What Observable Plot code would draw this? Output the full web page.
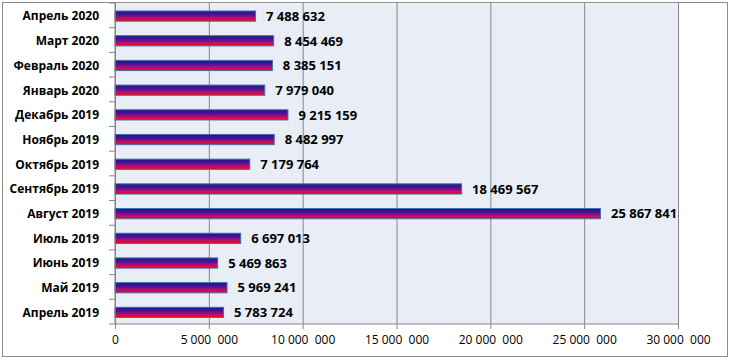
<!DOCTYPE html>
<html>
<head>
<meta charset="utf-8">
<script src="https://cdn.jsdelivr.net/npm/d3@7"></script>
<script src="https://cdn.jsdelivr.net/npm/@observablehq/plot@0.6"></script>
<style>
  html, body { margin: 0; padding: 0; background: #fff; }
  #chart svg { display: block; }
</style>
</head>
<body>
<div id="chart"></div>
<script>
const months = ["Апрель 2020", "Март 2020", "Февраль 2020", "Январь 2020", "Декабрь 2019", "Ноябрь 2019", "Октябрь 2019", "Сентябрь 2019", "Август 2019", "Июль 2019", "Июнь 2019", "Май 2019", "Апрель 2019"];
const values = [7488632, 8454469, 8385151, 7979040, 9215159, 8482997, 7179764, 18469567, 25867841, 6697013, 5469863, 5969241, 5783724];
const xTicks = [0, 5000000, 10000000, 15000000, 20000000, 25000000, 30000000];
const xTickLabels = ["0", "5\u00a0000\u00a0\u00a0000", "10\u00a0000\u00a0\u00a0000", "15\u00a0000\u00a0\u00a0000", "20\u00a0000\u00a0\u00a0000", "25\u00a0000\u00a0\u00a0000", "30\u00a0000\u00a0\u00a0000"];

const data = months.map((m, i) => ({month: m, value: values[i]}));
const fmt = v => d3.format(",")(v).replace(/,/g, "\u00a0");

const chart = Plot.plot({
  width: 730,
  height: 362,
  marginLeft: 115,
  marginRight: 52,
  marginTop: 3,
  marginBottom: 38,
  style: {fontFamily: "'Open Sans', sans-serif", color: "#000", background: "#fff"},
  x: {domain: [0, 30000000], label: null},
  y: {domain: months, padding: 0, round: false, label: null},
  marks: [
    Plot.frame({fill: "#e9edf6", stroke: null}),
    Plot.ruleX(xTicks, {stroke: "#868686", strokeOpacity: 1}),
    Plot.barX(data, {y: "month", x: "value", fill: "url(#barGrad)", stroke: "#3f6fae", strokeWidth: 1, insetTop: 8, insetBottom: 6.5}),
    Plot.text(data, {y: "month", x: "value", text: d => fmt(d.value), dx: 10, dy: 0.8, textAnchor: "start", fontWeight: "bold", fontSize: 13, fill: "#000"}),
    Plot.axisX({ticks: xTicks, tickFormat: (d) => xTickLabels[xTicks.indexOf(d)], tickSize: 5, tickPadding: 6, stroke: "#868686", fontSize: 12, fill: "#000", label: null}),
    Plot.axisY({tickSize: 0, tickPadding: 16.5, dy: 0.8, fontSize: 12, fontWeight: "bold", fill: "#000", label: null})
  ]
});

const svg = d3.select(chart);
const defs = svg.insert("defs", ":first-child");
const grad = defs.append("linearGradient").attr("id", "barGrad").attr("x1", 0).attr("y1", 0).attr("x2", 0).attr("y2", 1);
[[0, "#181880"], [0.4, "#55109c"], [0.75, "#c8105e"], [1, "#ff0000"]].forEach(([o, c]) => grad.append("stop").attr("offset", o).attr("stop-color", c));

// axis lines and category boundary ticks from the library's scales
const yScale = chart.scale("y");
const xScale = chart.scale("x");
const xStart = xScale.apply(0), xEnd = xScale.apply(30000000);
const bounds = months.map(m => yScale.apply(m));
bounds.push(yScale.apply(months[months.length - 1]) + yScale.bandwidth);
const yTop = bounds[0], yBottom = bounds[bounds.length - 1];
const lines = svg.append("g").attr("stroke", "#868686").attr("stroke-width", 1);
bounds.forEach(b => lines.append("line").attr("x1", xStart - 6).attr("x2", xStart).attr("y1", b).attr("y2", b));
lines.append("line").attr("x1", xStart).attr("x2", xStart).attr("y1", yTop).attr("y2", yBottom);
lines.append("line").attr("x1", xStart).attr("x2", xEnd).attr("y1", yBottom).attr("y2", yBottom);
// outer chart border
svg.append("rect").attr("x", 2.5).attr("y", 2.5).attr("width", 725).attr("height", 354)
  .attr("fill", "none").attr("stroke", "#8c8c8c").attr("stroke-width", 1);

document.getElementById("chart").appendChild(chart);
</script>
</body>
</html>
